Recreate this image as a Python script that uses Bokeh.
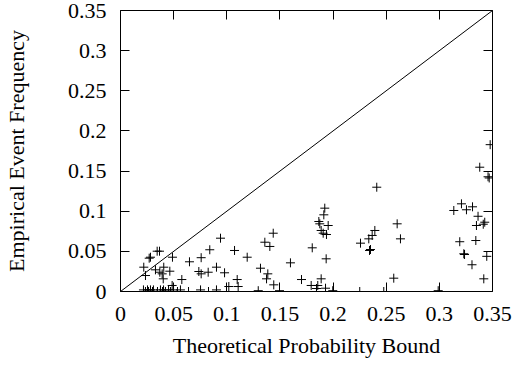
from bokeh.plotting import figure
from bokeh.models import LinearAxis, FixedTicker, ColumnDataSource, Range1d, CustomJSTickFormatter
from bokeh.embed import file_html
from bokeh.resources import INLINE

# Theoretical probability bound (x) and empirical event frequency (y)
bound = [
    0.0941, 0.0840, 0.1073, 0.0759, 0.0649, 0.0489, 0.0345, 0.0367, 0.0282, 0.0270,
    0.0219, 0.0329, 0.0407, 0.0370, 0.0392, 0.0464, 0.0235, 0.0402, 0.0577, 0.0737,
    0.0759, 0.0825, 0.0903, 0.0979, 0.1098, 0.1107, 0.1019, 0.0486,
    0.0216, 0.0235, 0.0254, 0.0263, 0.0282, 0.0301, 0.0310, 0.0348, 0.0376, 0.0395,
    0.0405, 0.0423, 0.0452, 0.0470, 0.0499, 0.0536, 0.0564, 0.0640, 0.0753, 0.0828, 0.0903,
    0.1922, 0.1913, 0.1866, 0.1875, 0.1954, 0.1888, 0.1907, 0.1938, 0.1437, 0.1358,
    0.1405, 0.1192, 0.1804, 0.1935, 0.1599, 0.1317, 0.1386, 0.1374, 0.1442, 0.1496,
    0.1703, 0.1888, 0.1794, 0.1856, 0.1844, 0.1929, 0.1997, 0.1296,
    0.2411, 0.2603, 0.2634, 0.2571, 0.2393, 0.2368, 0.2336, 0.2258, 0.2352, 0.2343,
    0.2251, 0.2477, 0.2989,
    0.3136, 0.3208, 0.3255, 0.3312, 0.3364, 0.3349, 0.3413, 0.3427, 0.3192, 0.3343,
    0.3230, 0.3237, 0.3307, 0.3446, 0.3418, 0.3380, 0.3458, 0.3469, 0.3478,
]
frequency = [
    0.0664, 0.0520, 0.0511, 0.0421, 0.0370, 0.0427, 0.0502, 0.0502, 0.0427, 0.0415,
    0.0303, 0.0270, 0.0303, 0.0240, 0.0220, 0.0253, 0.0199, 0.0158, 0.0149, 0.0249,
    0.0220, 0.0240, 0.0303, 0.0233, 0.0149, 0.0062, 0.0062, 0.0075,
    0.002, 0.0, 0.002, 0.0, 0.002, 0.0, 0.002, 0.0, 0.002, 0.0,
    0.002, 0.0, 0.002, 0.0, 0.002, 0.0, 0.002, 0.0, 0.002, 0.0, 0.002,
    0.1038, 0.0955, 0.0872, 0.0843, 0.0822, 0.0760, 0.0726, 0.0710, 0.0726, 0.0614,
    0.0561, 0.0427, 0.0544, 0.0407, 0.0357, 0.0290, 0.0220, 0.0158, 0.0083, 0.001,
    0.0149, 0.0158, 0.0075, 0.0075, 0.0037, 0.0041, 0.001, 0.001,
    0.1299, 0.0843, 0.0656, 0.0166, 0.0760, 0.0698, 0.0656, 0.0602, 0.0523, 0.0511,
    0.0, 0.0, 0.001,
    0.1009, 0.1092, 0.1018, 0.1055, 0.0937, 0.0822, 0.0838, 0.0863, 0.0620, 0.0635,
    0.0470, 0.0461, 0.0333, 0.0438, 0.0158, 0.1548, 0.1429, 0.1414, 0.1829,
]
diag = [0.0, 0.35]
ticks = [0, 0.05, 0.1, 0.15, 0.2, 0.25, 0.3, 0.35]
tick_labels = ["0", "0.05", "0.1", "0.15", "0.2", "0.25", "0.3", "0.35"]

FONT = "Liberation Serif"
FS = "22px"

p = figure(width=514, height=365, output_backend="svg", toolbar_location=None,
           x_range=Range1d(0, 0.35), y_range=Range1d(0, 0.35),
           min_border_left=120, min_border_right=22, min_border_top=10, min_border_bottom=74,
           x_axis_label="Theoretical Probability Bound",
           y_axis_label="Empirical Event Frequency")
p.xgrid.visible = False
p.ygrid.visible = False
p.outline_line_color = "black"
p.outline_line_width = 1
p.background_fill_color = "white"
p.border_fill_color = "white"

fmt_code = """
let best = 0, d = Infinity;
for (let i = 0; i < tvals.length; i++) {
  const e = Math.abs(tvals[i] - tick);
  if (e < d) { d = e; best = i; }
}
return tlabs[best];
"""
for ax in (p.xaxis[0], p.yaxis[0]):
    ax.ticker = FixedTicker(ticks=ticks)
    ax.formatter = CustomJSTickFormatter(args=dict(tvals=ticks, tlabs=tick_labels), code=fmt_code)
    ax.major_tick_in = 9
    ax.major_tick_out = 0
    ax.minor_tick_in = 0
    ax.minor_tick_out = 0
    ax.axis_line_color = None
    ax.major_tick_line_color = "black"
    ax.major_label_text_font = FONT
    ax.major_label_text_font_size = FS
    ax.major_label_text_color = "black"
    ax.axis_label_text_font = FONT
    ax.axis_label_text_font_size = FS
    ax.axis_label_text_font_style = "normal"
    ax.axis_label_text_color = "black"
p.xaxis[0].major_label_standoff = 15
p.xaxis[0].axis_label_standoff = 9
p.yaxis[0].major_label_standoff = 14
p.yaxis[0].axis_label_standoff = 36

for side in ("right", "above"):
    a = LinearAxis(ticker=FixedTicker(ticks=ticks))
    a.major_tick_in = 9
    a.major_tick_out = 0
    a.minor_tick_in = 0
    a.minor_tick_out = 0
    a.axis_line_color = None
    a.major_label_text_alpha = 0
    a.major_label_text_font_size = "2px"
    a.major_label_standoff = 0
    p.add_layout(a, side)

p.line(diag, diag, line_color="black", line_width=1)
src = ColumnDataSource(dict(x=bound, y=frequency))
p.scatter("x", "y", source=src, marker="cross", size=9, line_color="black", line_width=1)

open("out.html", "w").write(file_html(p, INLINE))
